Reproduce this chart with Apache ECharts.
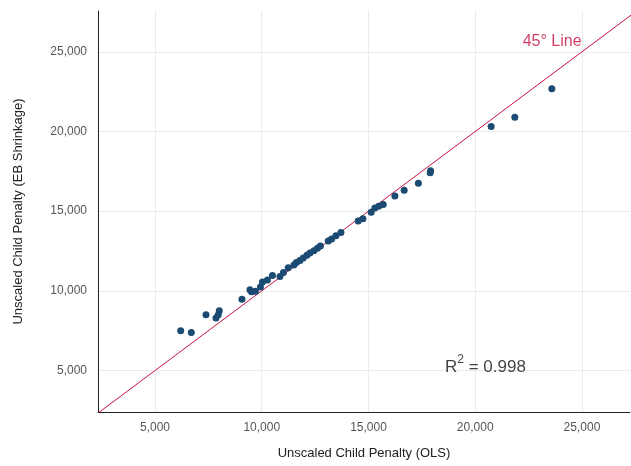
<!DOCTYPE html>
<html>
<head>
<meta charset="utf-8">
<script src="https://cdn.jsdelivr.net/npm/echarts@6/dist/echarts.min.js"></script>
<style>
  html, body { margin: 0; padding: 0; background: #fff; }
  #chart { width: 631px; height: 466px; }
</style>
</head>
<body>
<div id="chart"></div>
<script>
// Child penalty estimates: OLS (x) versus EB shrinkage (y)
const olsPenalty = [
  6203, 6700, 7388, 7856, 7964, 8011, 9073, 9448, 9518, 9705,
  9940, 10033, 10267, 10501, 10853, 11016, 11241, 11508, 11625, 11789,
  11943, 12117, 12257, 12444, 12608, 12749, 13114, 13273, 13474, 13709,
  14519, 14739, 15127, 15300, 15478, 15689, 16237, 16672, 17337, 17890,
  17908, 20746, 21855, 23588
];
const ebPenalty = [
  7500, 7394, 8500, 8294, 8500, 8750, 9469, 10063, 9938, 9969,
  10250, 10563, 10688, 10969, 10906, 11156, 11456, 11625, 11781, 11906,
  12063, 12231, 12375, 12519, 12669, 12813, 13125, 13250, 13456, 13656,
  14388, 14531, 14938, 15206, 15313, 15419, 15956, 16313, 16750, 17406,
  17531, 20313, 20894, 22688
];
const tickValues = [5000, 10000, 15000, 20000, 25000];
const xRange = [2330, 27250];
const yRange = [2400, 27560];
const diagonalEnds = [0, 30000];
const diagonalLabel = '45° Line';
const diagonalLabelAt = [23600, 25625];
const rSquared = 0.998;
const rSquaredAt = [20480, 5350];

const points = olsPenalty.map((x, i) => [x, ebPenalty[i]]);
const fmt = v => v.toLocaleString('en-US');
const FONT = '"Liberation Sans", Arial, sans-serif';
const RED = '#c8103e';

const chart = echarts.init(document.getElementById('chart'), null, { renderer: 'canvas' });

const axisCommon = {
  type: 'value',
  axisLine: { show: true, lineStyle: { color: '#222', width: 1 } },
  axisTick: { show: false, customValues: tickValues },
  axisLabel: { customValues: tickValues, formatter: fmt, color: '#555', fontSize: 12, fontFamily: FONT },
  splitLine: { show: true, lineStyle: { color: '#ebebeb', width: 1 } },
  nameLocation: 'middle',
  nameTextStyle: { color: '#222', fontSize: 13, fontFamily: FONT }
};

chart.setOption({
  animation: false,
  backgroundColor: '#fff',
  grid: { left: 98, right: 1, top: 11, bottom: 54, outerBoundsMode: 'none' },
  xAxis: Object.assign({}, axisCommon, {
    min: xRange[0], max: xRange[1],
    name: 'Unscaled Child Penalty (OLS)', nameGap: 35,
    axisLabel: Object.assign({}, axisCommon.axisLabel, { margin: 10 })
  }),
  yAxis: Object.assign({}, axisCommon, {
    min: yRange[0], max: yRange[1],
    name: 'Unscaled Child Penalty (EB Shrinkage)', nameGap: 73,
    axisLabel: Object.assign({}, axisCommon.axisLabel, { margin: 11 })
  }),
  series: [
    {
      type: 'line',
      data: [[diagonalEnds[0], diagonalEnds[0]], [diagonalEnds[1], diagonalEnds[1]]],
      showSymbol: false,
      symbol: 'none',
      clip: true,
      lineStyle: { color: RED, width: 1 },
      silent: true,
      z: 1
    },
    {
      type: 'scatter',
      data: points,
      symbolSize: 7,
      itemStyle: { color: '#1b4a73', opacity: 1 },
      z: 3
    },
    {
      type: 'scatter',
      data: [diagonalLabelAt],
      symbolSize: 0,
      label: {
        show: true, position: 'inside', formatter: diagonalLabel,
        color: RED, fontSize: 16, fontFamily: FONT
      },
      silent: true
    },
    {
      type: 'scatter',
      data: [rSquaredAt],
      symbolSize: 0,
      label: {
        show: true, position: 'inside',
        formatter: '{r|R}{sup|2}{r| = ' + rSquared.toFixed(3) + '}',
        rich: {
          r: { color: '#111', fontSize: 17, fontFamily: FONT, verticalAlign: 'bottom', lineHeight: 22 },
          sup: { color: '#111', fontSize: 12, fontFamily: FONT, verticalAlign: 'top', lineHeight: 22, padding: [0, 0, 10, 0] }
        }
      },
      silent: true
    }
  ]
});
</script>
</body>
</html>
